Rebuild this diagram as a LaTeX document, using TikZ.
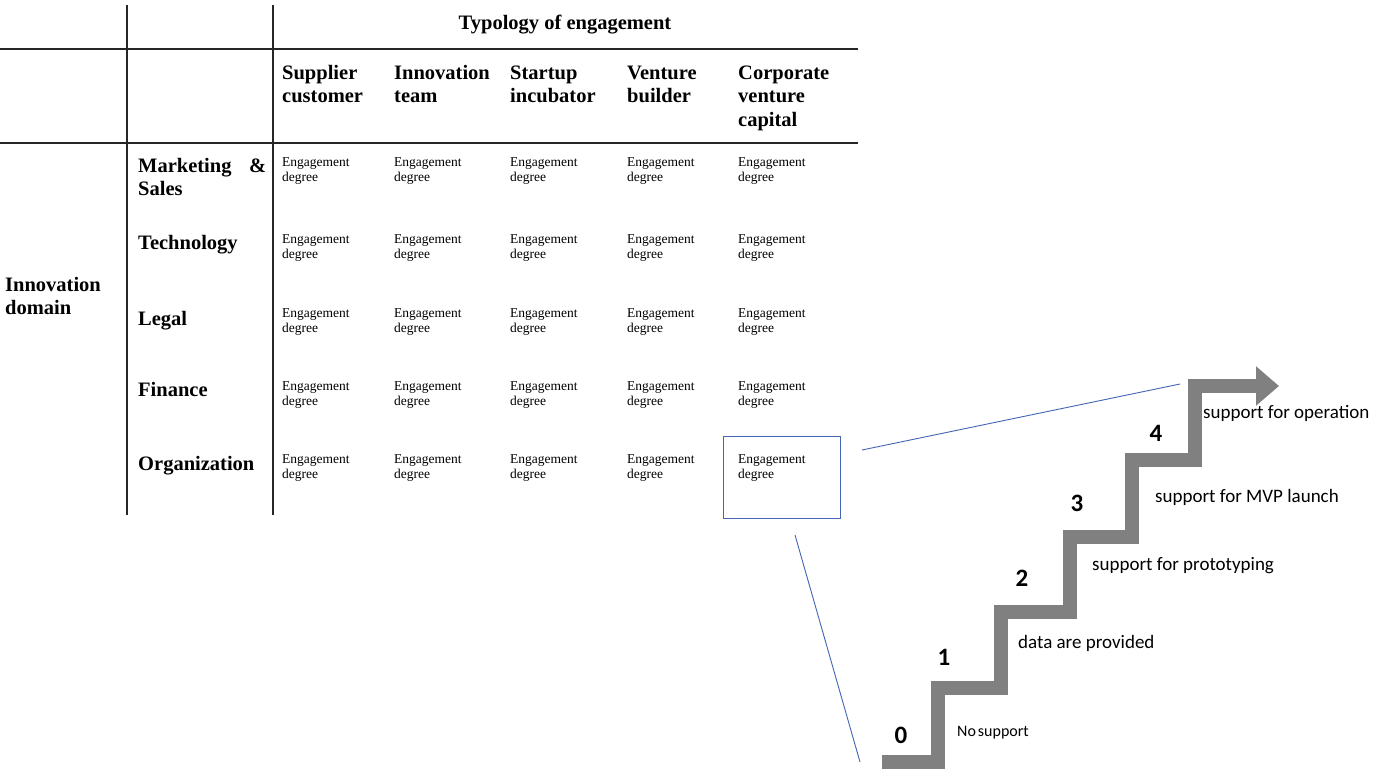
\documentclass[tikz,border=0pt]{standalone}
\usepackage{fontspec}
\setmainfont{Liberation Serif}
\newfontfamily\calib{Carlito}
\usetikzlibrary{arrows.meta}
\definecolor{stairgray}{RGB}{128,128,128}
\definecolor{selblue}{RGB}{68,100,180}
\newcommand{\twol}[2]{\vtop{\hbox{#1}\hbox{#2}}}
\newcommand{\threel}[3]{\vtop{\hbox{#1}\hbox{#2}\hbox{#3}}}
\tikzset{
  hdr/.style={anchor=base west, inner sep=0, font=\fontsize{20.5}{23.5}\selectfont\bfseries},
  cell/.style={anchor=base west, inner sep=0, font=\fontsize{13.5}{15.5}\selectfont},
  lbl/.style={anchor=base west, inner sep=0, font=\calib\fontsize{19}{22}\selectfont},
  num/.style={inner sep=0, font=\calib\bfseries\fontsize{25}{28}\selectfont},
  rulev/.style={line width=2pt, black!85},
  ruleh/.style={line width=2.4pt, black!85},
  zoomline/.style={selblue, line width=0.9pt},
  stair/.style={stairgray, line width=14.5pt, line join=miter, line cap=butt},
}
\begin{document}
\begin{tikzpicture}[x=1pt, y=-1pt]
\useasboundingbox[fill=white] (0,0) rectangle (1374,772);
% table rules
\draw[rulev] (127,5) -- (127,515);
\draw[rulev] (273,5) -- (273,515);
\draw[ruleh] (0,49) -- (858,49);
\draw[ruleh] (0,143) -- (858,143);
% headers
\node[hdr, anchor=base] (typ) at (565,29) {Typology of engagement};
\node[hdr] (c1) at (282,79) {\twol{Supplier}{customer}};
\node[hdr] (c2) at (394,79) {\twol{Innovation}{team}};
\node[hdr] (c3) at (510,79) {\twol{Startup}{incubator}};
\node[hdr] (c4) at (627,79) {\twol{Venture}{builder}};
\node[hdr] (c5) at (738,79) {\threel{Corporate}{venture}{capital}};
% row labels
\node[hdr] (dom) at (5,291) {\twol{Innovation}{domain}};
\node[hdr] (r1) at (138,172) {\twol{\hbox to 128pt{Marketing\hfill\&}}{Sales}};
\node[hdr] (r2) at (138,249) {Technology};
\node[hdr] (r3) at (138,325) {Legal};
\node[hdr] (r4) at (138,396) {Finance};
\node[hdr] (r5) at (138,470) {Organization};
% cells
\foreach \c/\x in {1/282,2/394,3/510,4/627,5/738}
  \foreach \r/\y in {1/166,2/243,3/317,4/390,5/463}
    \node[cell] (e\r\c) at (\x,\y) {\twol{Engagement}{degree}};
% highlighted cell
\node[draw=selblue, line width=1pt, minimum width=117pt, minimum height=82pt, inner sep=0] (sel) at (781.5,477) {};
% staircase
\coordinate (s0) at (882,762);
\coordinate (s4) at (1279,386);
\draw[stair, -{Triangle[length=23pt,width=38pt]}] (s0) -- (938,762) -- (938,688) -- (1001,688) -- (1001,612) -- (1070,612) -- (1070,537) -- (1132,537) -- (1132,460) -- (1195,460) -- (1195,386) -- (s4);
% zoom lines
\coordinate (za) at (862,450);
\coordinate (zb) at (1180,384);
\coordinate (zc) at (795,535);
\coordinate (zd) at (860,762);
\draw[zoomline] (za) -- (zb);
\draw[zoomline] (zc) -- (zd);
% numbers
\node[num] (n0) at (901,735) {0};
\node[num] (n1) at (944,657) {1};
\node[num] (n2) at (1022,578) {2};
\node[num] (n3) at (1077,503) {3};
\node[num] (n4) at (1156,433) {4};
% labels
\node[lbl, font=\calib\fontsize{16}{20}\selectfont] (l0) at (957,736) {No\kern2pt support};
\node[lbl] (l1) at (1018,648) {data are provided};
\node[lbl] (l2) at (1092,570) {support for prototyping};
\node[lbl] (l3) at (1155,502) {support for MVP launch};
\node[lbl] (l4) at (1203,418) {support for operation};
\end{tikzpicture}
\end{document}
